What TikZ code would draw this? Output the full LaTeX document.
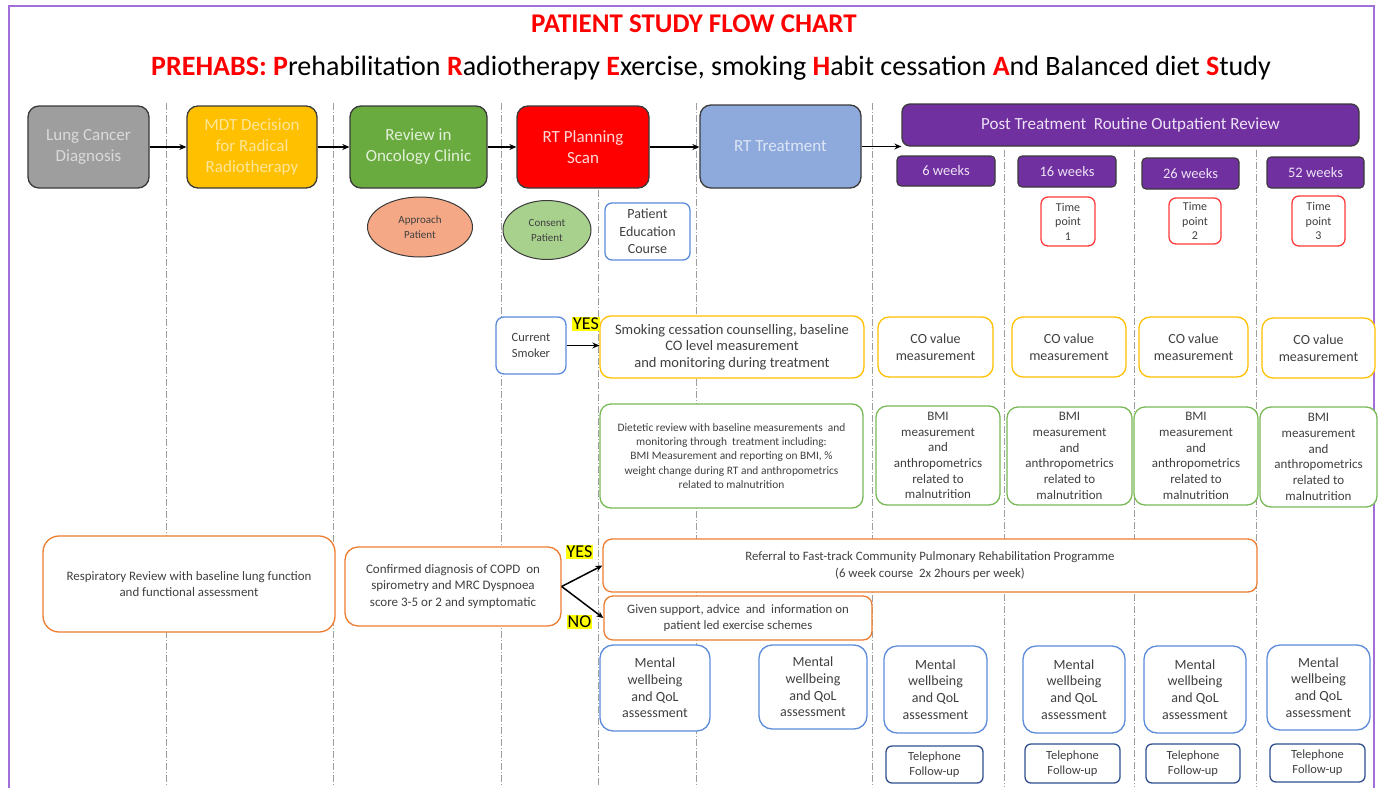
\documentclass[tikz,border=0pt]{standalone}
\usepackage{fontspec}
\setmainfont{Carlito}
\usetikzlibrary{shapes.geometric,arrows.meta}
\definecolor{tred}{HTML}{FF0000}
\definecolor{frame}{HTML}{A070D8}
\definecolor{edge}{HTML}{3A3A3A}
\definecolor{txt}{HTML}{404040}
\definecolor{lungfill}{HTML}{9E9E9E}
\definecolor{lungtxt}{HTML}{DADADA}
\definecolor{mdtfill}{HTML}{FFC000}
\definecolor{mdttxt}{HTML}{FFE699}
\definecolor{revfill}{HTML}{6AAB40}
\definecolor{revtxt}{HTML}{E2F0D9}
\definecolor{planfill}{HTML}{FF0000}
\definecolor{plantxt}{HTML}{FFD9D9}
\definecolor{rtfill}{HTML}{8EAADC}
\definecolor{rttxt}{HTML}{DCE5F5}
\definecolor{purp}{HTML}{7030A0}
\definecolor{purptxt}{HTML}{EDE2F5}
\definecolor{peach}{HTML}{F4A886}
\definecolor{lgreen}{HTML}{A9D18E}
\definecolor{bblue}{HTML}{5B8BDB}
\definecolor{navy}{HTML}{2F4F8F}
\definecolor{amber}{HTML}{FFC000}
\definecolor{ggreen}{HTML}{78B955}
\definecolor{orng}{HTML}{ED7D31}
\definecolor{tpred}{HTML}{FF3B3B}
\definecolor{hl}{HTML}{FFFF00}
\begin{document}
\begin{tikzpicture}[x=1pt,y=-1pt,
  sz/.style 2 args={minimum width=#1pt,minimum height=#2pt},
  topbox/.style={draw=edge,line width=1.3pt,rounded corners=11pt,align=center,inner sep=0pt,font=\fontsize{17}{21}\selectfont},
  wkbox/.style={draw=edge,line width=1.1pt,rounded corners=4pt,fill=purp,text=purptxt,align=center,inner sep=0pt,font=\fontsize{14.5}{17}\selectfont},
  oval/.style={ellipse,draw=edge,line width=1pt,align=center,inner sep=0pt,text=txt,font=\fontsize{11}{15}\selectfont},
  wbox/.style={fill=white,line width=1.3pt,rounded corners=11pt,align=center,inner sep=0pt,text=txt},
  lane/.style={draw=gray!75,line width=0.8pt,dash pattern=on 7pt off 2pt on 1pt off 2pt},
  flow/.style={-{Stealth[length=7pt,width=6pt]},line width=1.5pt,black},
  tag/.style={fill=hl,inner sep=1pt,text=black,font=\fontsize{18}{20}\selectfont}
]
\clip (0,0) rectangle (1378,787);
\fill[white] (0,0) rectangle (1378,787);
\draw[frame,line width=1.4pt] (9,6) rectangle (1374,800);

% titles
\node (title) at (694,24) {\fontsize{27}{30}\selectfont\bfseries\color{tred}PATIENT STUDY FLOW CHART};
\node (sub) at (711,68) {\fontsize{28}{32}\selectfont\textcolor{tred}{\bfseries PREHABS: P}rehabilitation \textcolor{tred}{\bfseries R}adiotherapy \textcolor{tred}{\bfseries E}xercise, smoking \textcolor{tred}{\bfseries H}abit cessation \textcolor{tred}{\bfseries A}nd Balanced diet \textcolor{tred}{\bfseries S}tudy};

% swim lane separators
\coordinate (l1t) at (166,103); \coordinate (l1b) at (166,787);
\coordinate (l2t) at (333,103); \coordinate (l2b) at (333,787);
\coordinate (l3t) at (501,103); \coordinate (l3b) at (501,787);
\coordinate (l4t) at (598,190); \coordinate (l4b) at (598,787);
\coordinate (l5t) at (696,103); \coordinate (l5b) at (696,787);
\coordinate (l6t) at (872,103); \coordinate (l6b) at (872,787);
\coordinate (l7t) at (1004,150); \coordinate (l7b) at (1004,787);
\coordinate (l8t) at (1134,150); \coordinate (l8b) at (1134,787);
\coordinate (l9t) at (1256,150); \coordinate (l9b) at (1256,787);
\foreach \i in {1,...,9} {\draw[lane] (l\i t) -- (l\i b);}

% top row
\node[topbox,fill=lungfill,text=lungtxt,sz={121}{82}] (lung) at (88.5,147) {Lung Cancer\\Diagnosis};
\node[topbox,fill=mdtfill,text=mdttxt,sz={130}{82}] (mdt) at (252,147) {MDT Decision\\for Radical\\Radiotherapy};
\node[topbox,fill=revfill,text=revtxt,sz={137}{82}] (rev) at (418.5,147) {Review in\\Oncology Clinic};
\node[topbox,fill=planfill,text=plantxt,sz={132}{82}] (plan) at (583,147) {RT Planning\\Scan};
\node[topbox,fill=rtfill,text=rttxt,sz={161}{83}] (rt) at (780.5,146.5) {RT Treatment};
\node[topbox,rounded corners=8pt,fill=purp,text=purptxt,sz={457}{42}] (post) at (1130.5,125) {Post Treatment\ \ Routine Outpatient Review};
\node[wkbox,sz={98}{30}] (w6) at (946,171) {6 weeks};
\node[wkbox,sz={98}{31}] (w16) at (1067,171.5) {16 weeks};
\node[wkbox,sz={97}{31}] (w26) at (1190.5,173.5) {26 weeks};
\node[wkbox,sz={97}{31}] (w52) at (1315.5,172.5) {52 weeks};

\draw[flow] (lung) -- (mdt);
\draw[flow] (mdt) -- (rev);
\draw[flow] (rev) -- (plan);
\draw[flow] (plan) -- (plan -| rt.west);
\draw[flow] (rt.east) -- (rt.east -| post.west);

% second row
\node[oval,fill=peach,sz={105}{60}] (appr) at (420,227) {Approach\\Patient};
\node[oval,fill=lgreen,sz={88}{59}] (cons) at (547,230) {Consent\\Patient};
\node[wbox,draw=bblue,rounded corners=7pt,sz={85}{57},font=\fontsize{14}{17.5}\selectfont] (pec) at (647.5,231.5) {Patient\\Education\\Course};
\node[wbox,draw=tpred,rounded corners=7pt,sz={54}{49},font=\fontsize{12}{14.5}\selectfont] (tp1) at (1068,221.5) {Time\\point\\1};
\node[wbox,draw=tpred,rounded corners=7pt,sz={52}{46},font=\fontsize{12}{14.5}\selectfont] (tp2) at (1195,221) {Time\\point\\2};
\node[wbox,draw=tpred,rounded corners=7pt,sz={53}{50},font=\fontsize{12}{14.5}\selectfont] (tp3) at (1318.5,221) {Time\\point\\3};

% smoking row
\node[wbox,draw=bblue,rounded corners=8pt,sz={70}{57},font=\fontsize{12.5}{16}\selectfont] (smoker) at (531,345.5) {Current\\Smoker};
\node[wbox,draw=amber,sz={264}{62},font=\fontsize{14.5}{16.5}\selectfont] (smoke) at (732,347) {Smoking cessation counselling, baseline\\CO level measurement\\ and monitoring during treatment};
\node[wbox,draw=amber,sz={115}{60},font=\fontsize{14}{17}\selectfont] (co1) at (935.5,347) {CO value\\measurement};
\node[wbox,draw=amber,sz={114}{60},font=\fontsize{14}{17}\selectfont] (co2) at (1069,347) {CO value\\measurement};
\node[wbox,draw=amber,sz={109}{60},font=\fontsize{14}{17}\selectfont] (co3) at (1193.5,347) {CO value\\measurement};
\node[wbox,draw=amber,sz={113}{60},font=\fontsize{14}{17}\selectfont] (co4) at (1318.5,348) {CO value\\measurement};
\node[tag] (yes1) at (586,324) {YES};
\draw[flow] (smoker) -- (smoker -| smoke.west);

% diet row
\node[wbox,draw=ggreen,sz={263}{104},font=\fontsize{11.4}{14.3}\selectfont] (diet) at (731.5,456) {Dietetic review with baseline measurements\ \ and\\monitoring through\ \ treatment including:\\BMI Measurement and reporting on BMI, \%\\weight change during RT and anthropometrics\\related to malnutrition};
\node[wbox,draw=ggreen,sz={124}{99},font=\fontsize{13}{15.7}\selectfont] (bmi1) at (938,455.5) {BMI\\measurement\\and\\anthropometrics\\related to\\malnutrition};
\node[wbox,draw=ggreen,sz={125}{98},font=\fontsize{13}{15.7}\selectfont] (bmi2) at (1069.5,456) {BMI\\measurement\\and\\anthropometrics\\related to\\malnutrition};
\node[wbox,draw=ggreen,sz={124}{98},font=\fontsize{13}{15.7}\selectfont] (bmi3) at (1196,456) {BMI\\measurement\\and\\anthropometrics\\related to\\malnutrition};
\node[wbox,draw=ggreen,sz={117}{100},font=\fontsize{13}{15.7}\selectfont] (bmi4) at (1318.5,457) {BMI\\measurement\\and\\anthropometrics\\related to\\malnutrition};

% respiratory row
\node[wbox,draw=orng,rounded corners=16pt,sz={292}{96},font=\fontsize{12.9}{16}\selectfont] (resp) at (189,584) {Respiratory Review with baseline lung function\\and functional assessment};
\node[wbox,draw=orng,rounded corners=13pt,sz={216}{79},font=\fontsize{13}{16.5}\selectfont] (copd) at (453,586.5) {Confirmed diagnosis of COPD\ \ on\\spirometry and MRC Dyspnoea\\score 3-5 or 2 and symptomatic};
\node[wbox,draw=orng,rounded corners=9pt,sz={654}{53},font=\fontsize{12.8}{17}\selectfont] (refer) at (930,565.5) {Referral to Fast-track Community Pulmonary Rehabilitation Programme\\(6 week course\ \ 2x 2hours per week)};
\node[wbox,draw=orng,rounded corners=9pt,sz={268}{44},font=\fontsize{12.8}{16}\selectfont] (given) at (738,618) {Given support, advice\ \ and\ \ information on\\patient led exercise schemes};
\node[tag] (yes2) at (579.5,552) {YES};
\node[tag] (no2) at (579.5,622) {NO};
\draw[flow] (copd.east) -- (refer.west);
\draw[flow] (copd.east) -- (given.west);

% mental wellbeing row
\node[wbox,draw=bblue,rounded corners=13pt,sz={110}{86},font=\fontsize{14}{16.7}\selectfont] (m0) at (655,688) {Mental\\wellbeing\\and QoL\\assessment};
\node[wbox,draw=bblue,rounded corners=13pt,sz={108}{84},font=\fontsize{14}{16.7}\selectfont] (m0b) at (813,687) {Mental\\wellbeing\\and QoL\\assessment};
\node[wbox,draw=bblue,rounded corners=13pt,sz={103}{87},font=\fontsize{14}{16.7}\selectfont] (m1) at (935.5,689.5) {Mental\\wellbeing\\and QoL\\assessment};
\node[wbox,draw=bblue,rounded corners=13pt,sz={102}{87},font=\fontsize{14}{16.7}\selectfont] (m2) at (1074,689.5) {Mental\\wellbeing\\and QoL\\assessment};
\node[wbox,draw=bblue,rounded corners=13pt,sz={102}{87},font=\fontsize{14}{16.7}\selectfont] (m3) at (1195,689.5) {Mental\\wellbeing\\and QoL\\assessment};
\node[wbox,draw=bblue,rounded corners=13pt,sz={103}{85},font=\fontsize{14}{16.7}\selectfont] (m4) at (1318.5,687.5) {Mental\\wellbeing\\and QoL\\assessment};

\node[wbox,draw=navy,rounded corners=6pt,sz={97}{37},font=\fontsize{12.5}{15}\selectfont] (t1) at (934.5,764.5) {Telephone\\Follow-up};
\node[wbox,draw=navy,rounded corners=6pt,sz={95}{39},font=\fontsize{12.5}{15}\selectfont] (t2) at (1072.5,763.5) {Telephone\\Follow-up};
\node[wbox,draw=navy,rounded corners=6pt,sz={94}{39},font=\fontsize{12.5}{15}\selectfont] (t3) at (1193,763.5) {Telephone\\Follow-up};
\node[wbox,draw=navy,rounded corners=6pt,sz={95}{38},font=\fontsize{12.5}{15}\selectfont] (t4) at (1317.5,763) {Telephone\\Follow-up};
\end{tikzpicture}
\end{document}
